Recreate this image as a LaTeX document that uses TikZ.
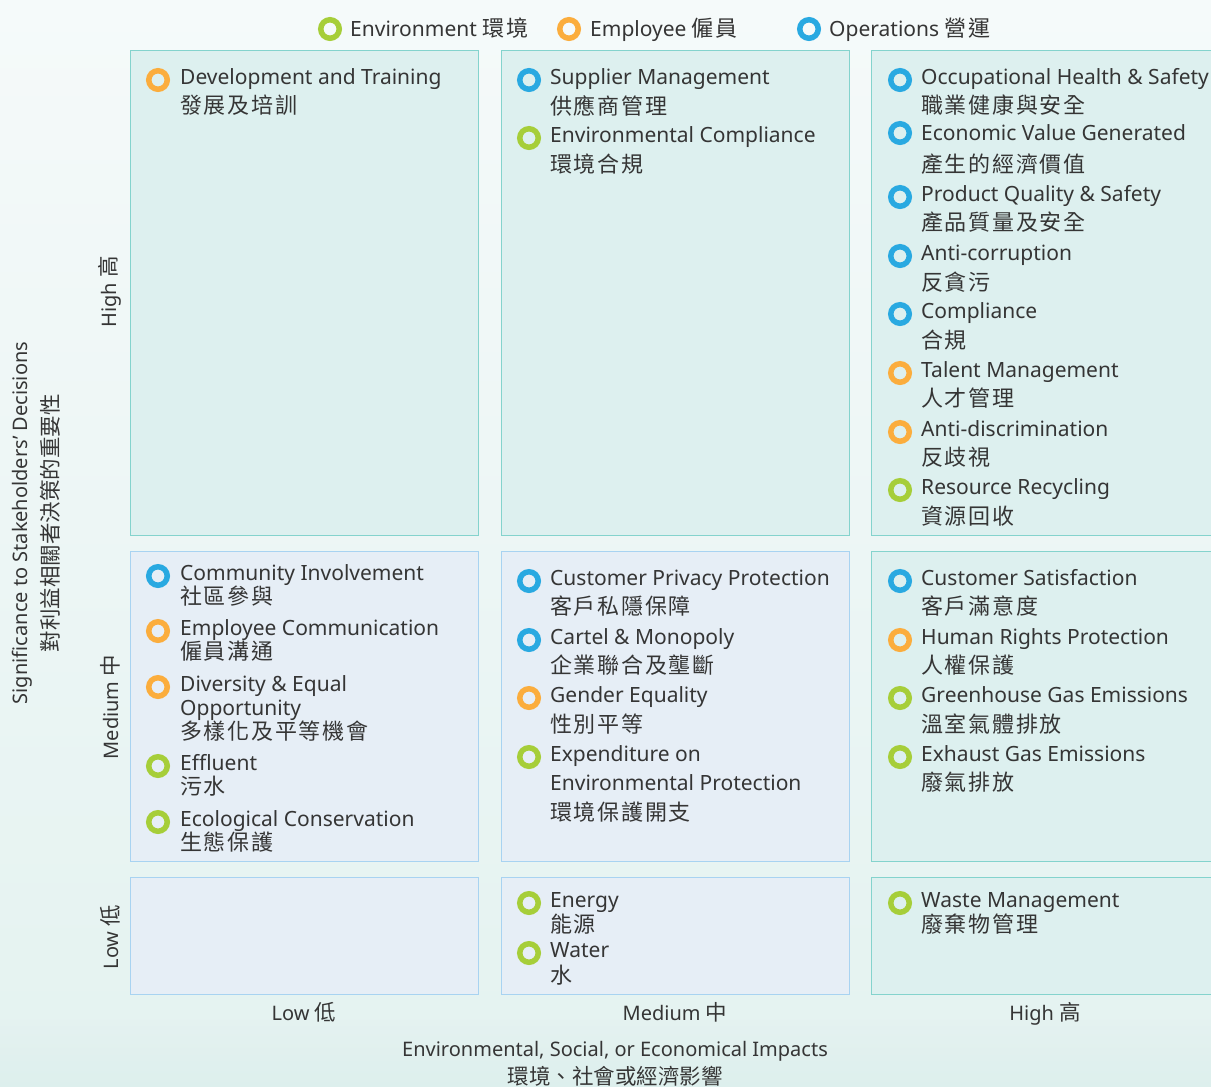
\documentclass[tikz,border=0pt]{standalone}
\usepackage{fontspec}
\setmainfont{Noto Sans}
\newfontfamily\cjk[LetterSpace=8]{Noto Sans CJK TC}
\newfontfamily\cjkplain{Noto Sans CJK TC}
\definecolor{envg}{HTML}{A6CE39}
\definecolor{empo}{HTML}{FBAD3D}
\definecolor{opsb}{HTML}{29A9E1}
\definecolor{txt}{HTML}{353535}
\definecolor{tealfill}{HTML}{DDF0EF}
\definecolor{tealline}{HTML}{84D3CD}
\definecolor{bluefill}{HTML}{E6EEF6}
\definecolor{blueline}{HTML}{A8D3F1}
\definecolor{bgtop}{HTML}{F5FAFA}
\definecolor{bgbot}{HTML}{E4F2F0}
\newcommand\ensz{\fontsize{21}{25}\selectfont}
\newcommand\axsz{\fontsize{20}{24}\selectfont}
\newcommand\zhsz{\cjk\fontsize{22}{26}\selectfont}
\newcommand\zhax{\cjkplain\fontsize{21.5}{26}\selectfont}
\begin{document}
\begin{tikzpicture}[x=1pt,y=-1pt,
  ring/.style={circle, draw=#1, line width=5.5pt, minimum size=18.5pt, inner sep=0pt, outer sep=0pt},
  en/.style={anchor=base west, inner sep=0pt, font=\ensz, text=txt},
  zh/.style={anchor=base west, inner sep=0pt, font=\zhsz, text=txt},
  lab/.style={anchor=base, inner sep=0pt, font=\axsz, text=txt},
  vlab/.style={anchor=center, inner sep=0pt, font=\axsz, text=txt, rotate=90},
  tealcell/.style={fill=tealfill, draw=tealline, line width=1.2pt},
  bluecell/.style={fill=bluefill, draw=blueline, line width=1.2pt}]
\useasboundingbox (0,0) rectangle (1211,1087);
\clip (0,0) rectangle (1211,1087);
\shade[top color=bgtop, bottom color=bgbot] (0,0) rectangle (1211,1087);
\shade[top color=bgtop!0!bgbot, bottom color=bgbot!80!tealline, opacity=0.35] (0,1020) rectangle (1211,1087);
% cells
\node[tealcell, minimum width=348pt, minimum height=485pt, anchor=north west] (c11) at (130,50) {};
\node[tealcell, minimum width=348pt, minimum height=485pt, anchor=north west] (c12) at (501,50) {};
\node[tealcell, minimum width=360pt, minimum height=485pt, anchor=north west] (c13) at (871,50) {};
\node[bluecell, minimum width=348pt, minimum height=310pt, anchor=north west] (c21) at (130,551) {};
\node[bluecell, minimum width=348pt, minimum height=310pt, anchor=north west] (c22) at (501,551) {};
\node[tealcell, minimum width=360pt, minimum height=310pt, anchor=north west] (c23) at (871,551) {};
\node[bluecell, minimum width=348pt, minimum height=117pt, anchor=north west] (c31) at (130,877) {};
\node[bluecell, minimum width=348pt, minimum height=117pt, anchor=north west] (c32) at (501,877) {};
\node[tealcell, minimum width=360pt, minimum height=117pt, anchor=north west] (c33) at (871,877) {};
% legend
\node[ring=envg] (lg1) at (330,29) {};
\node[en] (lt1) at (350,36) {Environment {\zhsz 環境}};
\node[ring=empo] (lg2) at (569,29) {};
\node[en] (lt2) at (590,36) {Employee {\zhsz 僱員}};
\node[ring=opsb] (lg3) at (809,29) {};
\node[en] (lt3) at (829,36) {Operations {\zhsz 營運}};
% top-left
\node[ring=empo] (b1) at (158,80) {};
\node[en] (e1) at (180,84) {Development and Training};
\node[zh] (z1) at (180,113) {發展及培訓};
% top-middle
\node[ring=opsb] (b2) at (529,80) {};
\node[en] (e2) at (550,84) {Supplier Management};
\node[zh] (z2) at (550,114) {供應商管理};
\node[ring=envg] (b3) at (529,138) {};
\node[en] (e3) at (550,142) {Environmental Compliance};
\node[zh] (z3) at (550,172) {環境合規};
% top-right
\node[ring=opsb] (b4) at (900,80) {};
\node[en] (e4) at (921,84) {Occupational Health \& Safety};
\node[zh] (z4) at (921,113) {職業健康與安全};
\node[ring=opsb] (b5) at (900,133) {};
\node[en] (e5) at (921,140) {Economic Value Generated};
\node[zh] (z5) at (921,172) {產生的經濟價值};
\node[ring=opsb] (b6) at (900,197) {};
\node[en] (e6) at (921,201) {Product Quality \& Safety};
\node[zh] (z6) at (921,230) {產品質量及安全};
\node[ring=opsb] (b7) at (900,256) {};
\node[en] (e7) at (921,260) {Anti-corruption};
\node[zh] (z7) at (921,290) {反貪污};
\node[ring=opsb] (b8) at (900,314) {};
\node[en] (e8) at (921,318) {Compliance};
\node[zh] (z8) at (921,348) {合規};
\node[ring=empo] (b9) at (900,373) {};
\node[en] (e9) at (921,377) {Talent Management};
\node[zh] (z9) at (921,406) {人才管理};
\node[ring=empo] (b10) at (900,432) {};
\node[en] (e10) at (921,436) {Anti-discrimination};
\node[zh] (z10) at (921,465) {反歧視};
\node[ring=envg] (b11) at (900,490) {};
\node[en] (e11) at (921,494) {Resource Recycling};
\node[zh] (z11) at (921,524) {資源回收};
% middle-left
\node[ring=opsb] (b12) at (158,576) {};
\node[en] (e12) at (180,580) {Community Involvement};
\node[zh] (z12) at (180,604) {社區參與};
\node[ring=empo] (b13) at (158,631) {};
\node[en] (e13) at (180,635) {Employee Communication};
\node[zh] (z13) at (180,659) {僱員溝通};
\node[ring=empo] (b14) at (158,687) {};
\node[en] (e14) at (180,691) {Diversity \& Equal};
\node[en] (e14b) at (180,715) {Opportunity};
\node[zh] (z14) at (180,739) {多樣化及平等機會};
\node[ring=envg] (b15) at (158,766) {};
\node[en] (e15) at (180,770) {Effluent};
\node[zh] (z15) at (180,794) {污水};
\node[ring=envg] (b16) at (158,822) {};
\node[en] (e16) at (180,826) {Ecological Conservation};
\node[zh] (z16) at (180,850) {生態保護};
% middle-middle
\node[ring=opsb] (b17) at (529,581) {};
\node[en] (e17) at (550,585) {Customer Privacy Protection};
\node[zh] (z17) at (550,614) {客戶私隱保障};
\node[ring=opsb] (b18) at (529,640) {};
\node[en] (e18) at (550,644) {Cartel \& Monopoly};
\node[zh] (z18) at (550,673) {企業聯合及壟斷};
\node[ring=empo] (b19) at (529,698) {};
\node[en] (e19) at (550,702) {Gender Equality};
\node[zh] (z19) at (550,732) {性別平等};
\node[ring=envg] (b20) at (529,757) {};
\node[en] (e20) at (550,761) {Expenditure on};
\node[en] (e20b) at (550,790) {Environmental Protection};
\node[zh] (z20) at (550,820) {環境保護開支};
% middle-right
\node[ring=opsb] (b21) at (900,581) {};
\node[en] (e21) at (921,585) {Customer Satisfaction};
\node[zh] (z21) at (921,614) {客戶滿意度};
\node[ring=empo] (b22) at (900,640) {};
\node[en] (e22) at (921,644) {Human Rights Protection};
\node[zh] (z22) at (921,673) {人權保護};
\node[ring=envg] (b23) at (900,698) {};
\node[en] (e23) at (921,702) {Greenhouse Gas Emissions};
\node[zh] (z23) at (921,732) {溫室氣體排放};
\node[ring=envg] (b24) at (900,757) {};
\node[en] (e24) at (921,761) {Exhaust Gas Emissions};
\node[zh] (z24) at (921,790) {廢氣排放};
% bottom
\node[ring=envg] (b25) at (529,903) {};
\node[en] (e25) at (550,907) {Energy};
\node[zh] (z25) at (550,932) {能源};
\node[ring=envg] (b26) at (529,953) {};
\node[en] (e26) at (550,957) {Water};
\node[zh] (z26) at (550,983) {水};
\node[ring=envg] (b27) at (900,903) {};
\node[en] (e27) at (921,907) {Waste Management};
\node[zh] (z27) at (921,932) {廢棄物管理};
% axis labels
\node[lab] (xl1) at (304,1020) {Low {\zhax 低}};
\node[lab] (xl2) at (675,1020) {Medium {\zhax 中}};
\node[lab] (xl3) at (1045,1020) {High {\zhax 高}};
\node[lab] (xt1) at (615,1056) {Environmental, Social, or Economical Impacts};
\node[anchor=base, inner sep=0pt, font=\zhax, text=txt] (xt2) at (615,1084) {環境、社會或經濟影響};
\node[vlab] (yl1) at (110,292) {High {\zhax 高}};
\node[vlab] (yl2) at (110,707) {Medium {\zhax 中}};
\node[vlab] (yl3) at (110,937) {Low {\zhax 低}};
\node[vlab] (yt1) at (22,523) {Significance to Stakeholders’ Decisions};
\node[vlab, font=\zhax] (yt2) at (50,523) {對利益相關者決策的重要性};
\end{tikzpicture}
\end{document}
